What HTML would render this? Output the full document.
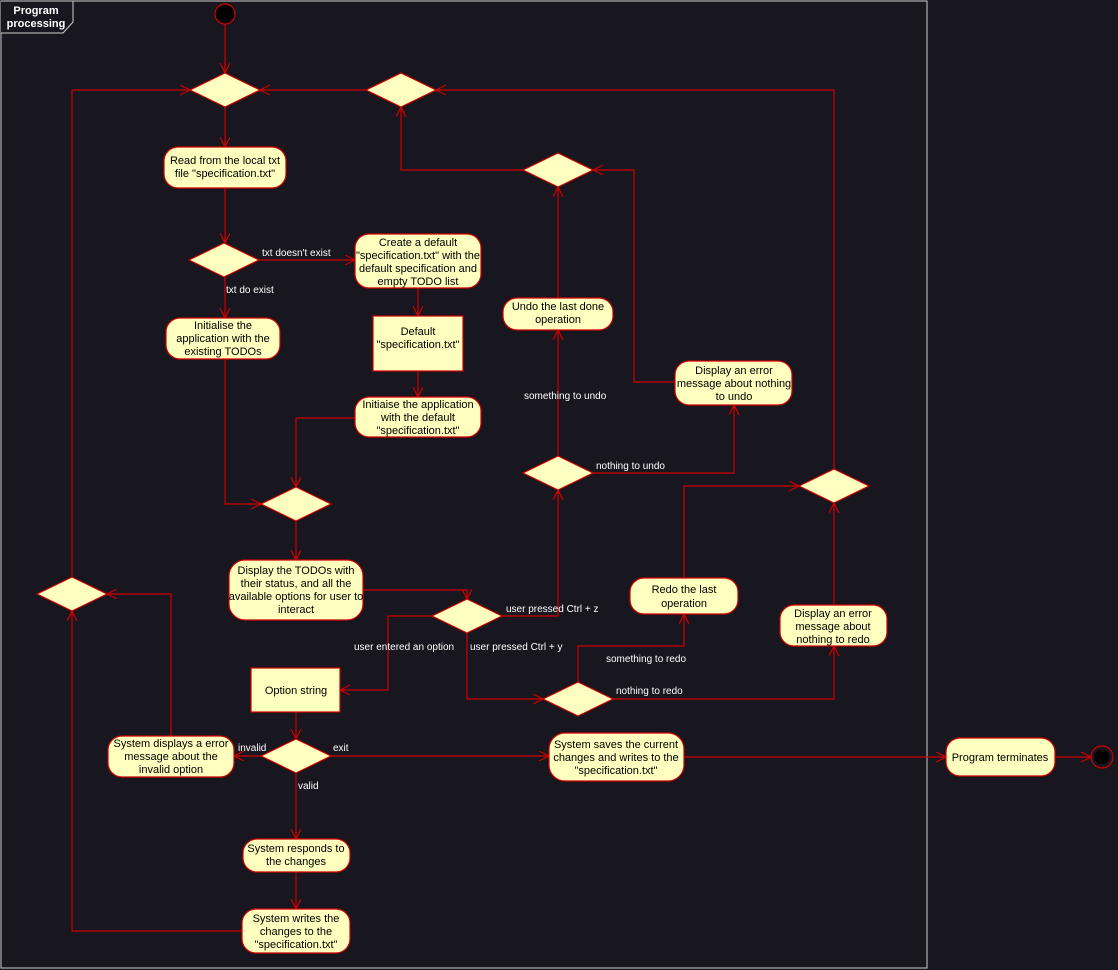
<!DOCTYPE html><html><head><style>body{margin:0;background:#18161f}svg{display:block}text{font-family:"Liberation Sans",sans-serif}</style></head><body>
<svg width="1118" height="970" viewBox="0 0 1118 970" xmlns="http://www.w3.org/2000/svg">
<defs><marker id="a" markerWidth="12" markerHeight="12" refX="10" refY="5" orient="auto" markerUnits="userSpaceOnUse"><path d="M0,0 L10,5 L0,10" fill="none" stroke="#d00000" stroke-width="1.2"/></marker></defs>
<rect x="0" y="0" width="1118" height="970" fill="#18161f"/>
<rect x="1" y="1" width="926" height="967" fill="none" stroke="#cfcfcf" stroke-width="1"/>
<path d="M1,1 H73 V22 L63,33 H1" fill="#18161f" stroke="#cfcfcf"/>
<text x="36" y="14" fill="#fff" font-size="11" font-weight="bold" text-anchor="middle">Program</text>
<text x="36" y="27" fill="#fff" font-size="11" font-weight="bold" text-anchor="middle">processing</text>
<g fill="none" stroke="#d00000" stroke-width="1.2" marker-end="url(#a)">
<path d="M225,24 V73"/><path d="M225,107 V147"/><path d="M225,188 V243"/>
<path d="M259,260 H355"/><path d="M225,277 V318"/><path d="M418,288 V316"/><path d="M418,371 V397"/>
<path d="M355,418 H296 V487"/><path d="M225,359 V504 H261"/><path d="M296,521 V560"/>
<path d="M363,590 H467 V599"/><path d="M502,616 H558 V490"/><path d="M432,616 H388 V690 H340"/>
<path d="M467,633 V699 H543"/><path d="M296,712 V739"/><path d="M261,756 H234"/>
<path d="M331,756 H549"/><path d="M296,773 V839"/><path d="M296,872 V909"/>
<path d="M242,931 H72 V611"/><path d="M171,736 V594 H107"/><path d="M72,577 V90 H190"/>
<path d="M558,456 V330"/><path d="M593,473 H734 V405"/><path d="M558,298 V187"/>
<path d="M675,382 H634 V170 H593"/><path d="M523,170 H401 V107"/><path d="M366,90 H260"/>
<path d="M834,469 V90 H436"/><path d="M578,682 V646 H684 V614"/><path d="M613,699 H834 V646"/>
<path d="M684,578 V486 H799"/><path d="M834,605 V503"/><path d="M684,757 H946"/><path d="M1055,757 H1091"/>
</g>
<g fill="#fff" font-size="10">
<text x="262" y="256">txt doesn't exist</text><text x="226" y="293">txt do exist</text>
<text x="506" y="612">user pressed Ctrl + z</text><text x="354" y="650">user entered an option</text>
<text x="470" y="650">user pressed Ctrl + y</text><text x="238" y="751">invalid</text>
<text x="333" y="751">exit</text><text x="298" y="789">valid</text>
<text x="524" y="399">something to undo</text><text x="596" y="469">nothing to undo</text>
<text x="606" y="662">something to redo</text><text x="616" y="694">nothing to redo</text>
</g>
<circle cx="225" cy="14" r="10" fill="#000" stroke="#d00000" stroke-width="1.2"/>
<circle cx="1102" cy="757" r="11" fill="none" stroke="#d00000" stroke-width="1.2"/>
<circle cx="1102" cy="757" r="7.5" fill="#000"/>
<g fill="#ffffc0" stroke="#d00000" stroke-width="1.2">
<path d="M190,90 L225,73 L260,90 L225,107Z"/><path d="M366,90 L401,73 L436,90 L401,107Z"/>
<path d="M189,260 L224,243 L259,260 L224,277Z"/><path d="M261,504 L296,487 L331,504 L296,521Z"/>
<path d="M432,616 L467,599 L502,616 L467,633Z"/><path d="M261,756 L296,739 L331,756 L296,773Z"/>
<path d="M37,594 L72,577 L107,594 L72,611Z"/><path d="M523,473 L558,456 L593,473 L558,490Z"/>
<path d="M523,170 L558,153 L593,170 L558,187Z"/><path d="M799,486 L834,469 L869,486 L834,503Z"/>
<path d="M543,699 L578,682 L613,699 L578,716Z"/>
<rect x="164" y="147" width="122" height="41" rx="14"/>
<rect x="355" y="234" width="126" height="54" rx="14"/>
<rect x="166" y="318" width="114" height="41" rx="14"/>
<rect x="373" y="316" width="90" height="55"/>
<rect x="355" y="397" width="126" height="40" rx="14"/>
<rect x="229" y="560" width="134" height="60" rx="16"/>
<rect x="251" y="668" width="89" height="44"/>
<rect x="108" y="736" width="126" height="41" rx="14"/>
<rect x="243" y="839" width="107" height="33" rx="14"/>
<rect x="242" y="909" width="108" height="44" rx="14"/>
<rect x="503" y="298" width="110" height="32" rx="14"/>
<rect x="675" y="361" width="117" height="44" rx="14"/>
<rect x="630" y="578" width="108" height="36" rx="14"/>
<rect x="780" y="605" width="107" height="41" rx="14"/>
<rect x="549" y="733" width="135" height="48" rx="16"/>
<rect x="946" y="738" width="109" height="38" rx="14"/>
</g>
<g fill="#000" font-size="11" text-anchor="middle">
<text x="225" y="164">Read from the local txt</text><text x="225" y="177">file "specification.txt"</text>
<text x="418" y="246">Create a default</text><text x="418" y="259">"specification.txt" with the</text><text x="418" y="272">default specification and</text><text x="418" y="285">empty TODO list</text>
<text x="223" y="329">Initialise the</text><text x="223" y="342">application with the</text><text x="223" y="355">existing TODOs</text>
<text x="418" y="335">Default</text><text x="418" y="348">"specification.txt"</text>
<text x="418" y="408">Initiaise the application</text><text x="418" y="421">with the default</text><text x="418" y="434">"specification.txt"</text>
<text x="296" y="574">Display the TODOs with</text><text x="296" y="587">their status, and all the</text><text x="296" y="600">available options for user to</text><text x="296" y="613">interact</text>
<text x="296" y="694">Option string</text>
<text x="171" y="747">System displays a error</text><text x="171" y="760">message about the</text><text x="171" y="773">invalid option</text>
<text x="296" y="852">System responds to</text><text x="296" y="865">the changes</text>
<text x="296" y="922">System writes the</text><text x="296" y="935">changes to the</text><text x="296" y="948">"specification.txt"</text>
<text x="558" y="310">Undo the last done</text><text x="558" y="323">operation</text>
<text x="734" y="374">Display an error</text><text x="734" y="387">message about nothing</text><text x="734" y="400">to undo</text>
<text x="684" y="593">Redo the last</text><text x="684" y="607">operation</text>
<text x="833" y="617">Display an error</text><text x="833" y="630">message about</text><text x="833" y="643">nothing to redo</text>
<text x="616" y="748">System saves the current</text><text x="616" y="761">changes and writes to the</text><text x="616" y="774">"specification.txt"</text>
<text x="1000" y="761">Program terminates</text>
</g>
</svg></body></html>
